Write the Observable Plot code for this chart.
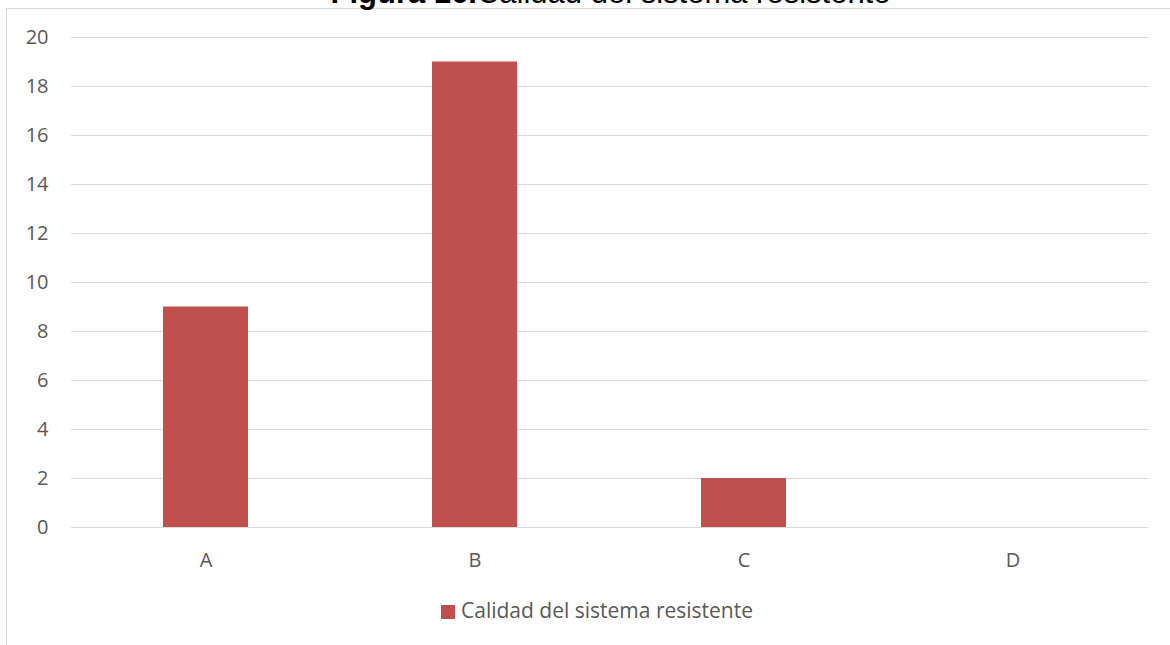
<!DOCTYPE html>
<html>
<head>
<meta charset="utf-8">
<script src="https://cdn.jsdelivr.net/npm/d3@7"></script>
<script src="https://cdn.jsdelivr.net/npm/@observablehq/plot@0.6"></script>
<style>
  html, body { margin: 0; padding: 0; background: #fff; width: 1170px; height: 645px; overflow: hidden; }
  #page { position: relative; width: 1170px; height: 645px; }
  #frame { position: absolute; left: 6px; top: 8px; width: 1200px; height: 700px;
           border-left: 1px solid #d9d9d9; border-top: 1px solid #d9d9d9; }
  #title { position: absolute; left: 0; width: 1221px; top: -23px; text-align: center;
           font-family: "Liberation Sans", Arial, sans-serif; font-size: 31px; line-height: 1;
           color: #000; white-space: nowrap; }
  #title b { font-weight: bold; }
  #chart { position: absolute; left: 0; top: 0; }
  #legend { position: absolute; left: 441px; top: 600px; font-family: "Open Sans", Lato, sans-serif;
            font-size: 21px; line-height: 1; color: #595959; white-space: nowrap; }
  #legend .sw { position: absolute; left: 0; top: 5px; width: 14px; height: 14px; }
  #legend .lbl { position: absolute; left: 20px; top: 0; }
</style>
</head>
<body>
<div id="page">
  <div id="frame"></div>
  <div id="title"><b>Figura 16.</b>Calidad del sistema resistente</div>
  <div id="chart"></div>
  <div id="legend"></div>
</div>
<script>
// Categories and counts for the resistant-system quality chart
const categories = ["A", "B", "C", "D"];
const values = [9, 19, 2, 0];
const seriesName = "Calidad del sistema resistente";
const yTicks = [0, 2, 4, 6, 8, 10, 12, 14, 16, 18, 20];

const barColor = "#C0504D";
const textColor = "#595959";
const gridColor = "#d9d9d9";

const rows = categories.map((c, i) => ({category: c, value: values[i]}));

const chart = Plot.plot({
  width: 1170,
  height: 580,
  marginTop: 37,
  marginBottom: 53,
  marginLeft: 71,
  marginRight: 22,
  style: {fontFamily: "'Open Sans', Lato, sans-serif", fontSize: "20px", color: textColor, background: "transparent"},
  x: {domain: categories, paddingInner: 0.684, paddingOuter: 0.342, label: null},
  y: {domain: [0, 20], label: null},
  marks: [
    Plot.ruleY(yTicks, {stroke: gridColor, strokeWidth: 1}),
    Plot.barY(rows, {x: "category", y: "value", fill: barColor}),
    Plot.axisY(yTicks, {tickSize: 0, tickPadding: 23, fill: textColor, fontSize: 20}),
    Plot.axisX({tickSize: 0, tickPadding: 25, fill: textColor, fontSize: 20})
  ]
});
document.getElementById("chart").appendChild(chart);

// Legend below the chart
const legend = document.getElementById("legend");
const sw = document.createElement("span");
sw.className = "sw";
sw.style.background = barColor;
const lbl = document.createElement("span");
lbl.className = "lbl";
lbl.textContent = seriesName;
legend.appendChild(sw);
legend.appendChild(lbl);
</script>
</body>
</html>
